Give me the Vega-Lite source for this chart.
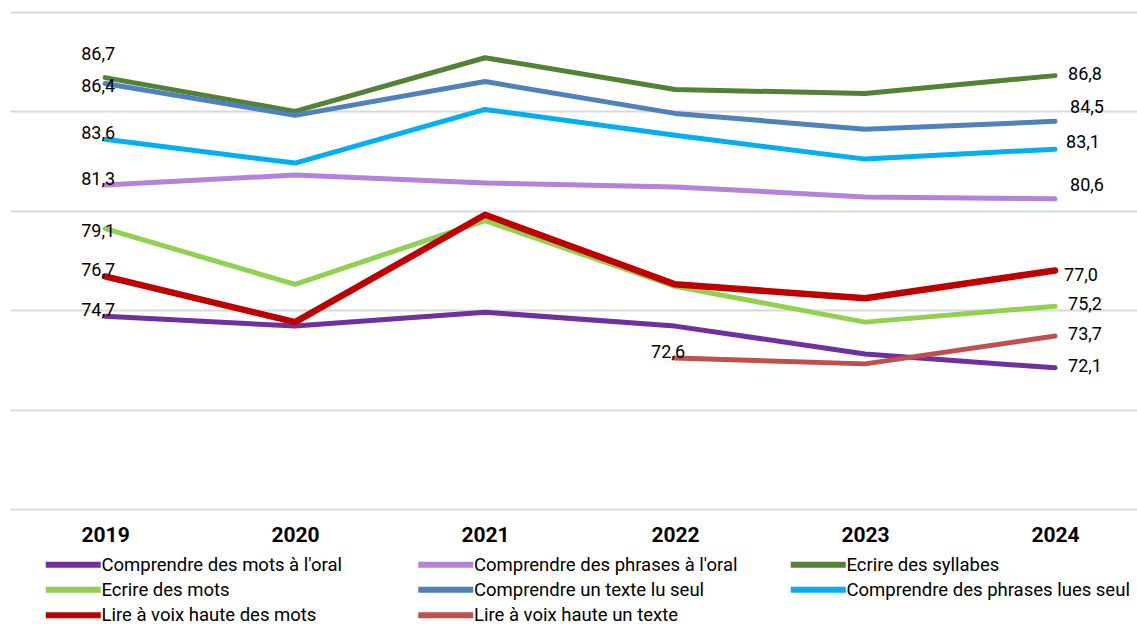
{
  "$schema": "https://vega.github.io/schema/vega-lite/v6.json",
  "autosize": "none",
  "width": 1127,
  "height": 497,
  "padding": {"left": 10, "top": 12, "right": 0, "bottom": 117},
  "background": "white",
  "config": {
    "locale": {"number": {"decimal": ",", "thousands": " ", "grouping": [3], "currency": ["", " €"]}},
    "view": {"stroke": null},
    "font": "Roboto",
    "text": {"font": "Roboto", "fontSize": 18, "color": "#000000"}
  },
  "data": {
    "values": [
      {"serie": "Comprendre des mots à l'oral", "annee": "2019", "valeur": 74.7},
      {"serie": "Comprendre des mots à l'oral", "annee": "2020", "valeur": 74.2},
      {"serie": "Comprendre des mots à l'oral", "annee": "2021", "valeur": 74.9},
      {"serie": "Comprendre des mots à l'oral", "annee": "2022", "valeur": 74.2},
      {"serie": "Comprendre des mots à l'oral", "annee": "2023", "valeur": 72.8},
      {"serie": "Comprendre des mots à l'oral", "annee": "2024", "valeur": 72.1},
      {"serie": "Comprendre des phrases à l'oral", "annee": "2019", "valeur": 81.3},
      {"serie": "Comprendre des phrases à l'oral", "annee": "2020", "valeur": 81.8},
      {"serie": "Comprendre des phrases à l'oral", "annee": "2021", "valeur": 81.4},
      {"serie": "Comprendre des phrases à l'oral", "annee": "2022", "valeur": 81.2},
      {"serie": "Comprendre des phrases à l'oral", "annee": "2023", "valeur": 80.7},
      {"serie": "Comprendre des phrases à l'oral", "annee": "2024", "valeur": 80.6},
      {"serie": "Ecrire des syllabes", "annee": "2019", "valeur": 86.7},
      {"serie": "Ecrire des syllabes", "annee": "2020", "valeur": 85.0},
      {"serie": "Ecrire des syllabes", "annee": "2021", "valeur": 87.7},
      {"serie": "Ecrire des syllabes", "annee": "2022", "valeur": 86.1},
      {"serie": "Ecrire des syllabes", "annee": "2023", "valeur": 85.9},
      {"serie": "Ecrire des syllabes", "annee": "2024", "valeur": 86.8},
      {"serie": "Ecrire des mots", "annee": "2019", "valeur": 79.1},
      {"serie": "Ecrire des mots", "annee": "2020", "valeur": 76.3},
      {"serie": "Ecrire des mots", "annee": "2021", "valeur": 79.5},
      {"serie": "Ecrire des mots", "annee": "2022", "valeur": 76.2},
      {"serie": "Ecrire des mots", "annee": "2023", "valeur": 74.4},
      {"serie": "Ecrire des mots", "annee": "2024", "valeur": 75.2},
      {"serie": "Comprendre un texte lu seul", "annee": "2019", "valeur": 86.4},
      {"serie": "Comprendre un texte lu seul", "annee": "2020", "valeur": 84.8},
      {"serie": "Comprendre un texte lu seul", "annee": "2021", "valeur": 86.5},
      {"serie": "Comprendre un texte lu seul", "annee": "2022", "valeur": 84.9},
      {"serie": "Comprendre un texte lu seul", "annee": "2023", "valeur": 84.1},
      {"serie": "Comprendre un texte lu seul", "annee": "2024", "valeur": 84.5},
      {"serie": "Comprendre des phrases lues seul", "annee": "2019", "valeur": 83.6},
      {"serie": "Comprendre des phrases lues seul", "annee": "2020", "valeur": 82.4},
      {"serie": "Comprendre des phrases lues seul", "annee": "2021", "valeur": 85.1},
      {"serie": "Comprendre des phrases lues seul", "annee": "2022", "valeur": 83.8},
      {"serie": "Comprendre des phrases lues seul", "annee": "2023", "valeur": 82.6},
      {"serie": "Comprendre des phrases lues seul", "annee": "2024", "valeur": 83.1},
      {"serie": "Lire à voix haute des mots", "annee": "2019", "valeur": 76.7},
      {"serie": "Lire à voix haute des mots", "annee": "2020", "valeur": 74.4},
      {"serie": "Lire à voix haute des mots", "annee": "2021", "valeur": 79.8},
      {"serie": "Lire à voix haute des mots", "annee": "2022", "valeur": 76.3},
      {"serie": "Lire à voix haute des mots", "annee": "2023", "valeur": 75.6},
      {"serie": "Lire à voix haute des mots", "annee": "2024", "valeur": 77.0},
      {"serie": "Lire à voix haute un texte", "annee": "2022", "valeur": 72.6},
      {"serie": "Lire à voix haute un texte", "annee": "2023", "valeur": 72.3},
      {"serie": "Lire à voix haute un texte", "annee": "2024", "valeur": 73.7}
    ]
  },
  "encoding": {
    "x": {
      "field": "annee", "type": "ordinal",
      "scale": {"type": "point", "padding": 0.466, "align": 0.537},
      "axis": {"title": null, "domain": false, "ticks": false, "grid": false, "labelAngle": 0,
               "labelFont": "Roboto", "labelFontSize": 21, "labelFontWeight": "bold", "labelColor": "#000000", "labelPadding": 15}
    },
    "y": {
      "field": "valeur", "type": "quantitative",
      "scale": {"domain": [65, 90], "nice": false, "zero": false},
      "axis": {"title": null, "domain": false, "ticks": false, "labels": false, "values": [65, 70, 75, 80, 85, 90],
               "gridColor": "#d9d9d9", "gridWidth": 2}
    },
    "color": {
      "field": "serie", "type": "nominal",
      "scale": {
        "domain": ["Comprendre des mots à l'oral", "Comprendre des phrases à l'oral", "Ecrire des syllabes", "Ecrire des mots", "Comprendre un texte lu seul", "Comprendre des phrases lues seul", "Lire à voix haute des mots", "Lire à voix haute un texte"],
        "range": ["#7030A0", "#B383DB", "#548235", "#92D050", "#4F81BD", "#00B0F0", "#C00000", "#C0504D"]
      },
      "legend": {
        "title": null, "orient": "none", "legendX": 54, "legendY": 543, "direction": "horizontal", "columns": 3,
        "gridAlign": "all", "columnPadding": 20.5, "rowPadding": 0.5, "padding": 0,
        "symbolType": "M-5,0H5", "symbolSize": 121, "symbolStrokeWidth": 6,
        "labelFont": "Roboto", "labelFontSize": 18.5, "labelColor": "#000000", "labelOffset": 19, "labelLimit": 400
      }
    }
  },
  "layer": [
    {
      "transform": [{"filter": "datum.serie != 'Lire à voix haute des mots'"}],
      "mark": {"type": "line", "strokeWidth": 5, "strokeCap": "round", "strokeJoin": "round"}
    },
    {
      "transform": [{"filter": "datum.serie == 'Lire à voix haute des mots'"}],
      "mark": {"type": "line", "strokeWidth": 6.5, "strokeCap": "round", "strokeJoin": "round"}
    },
    {
      "transform": [{"filter": "(datum.annee == '2019' && indexof(['Ecrire des syllabes','Comprendre un texte lu seul','Ecrire des mots'], datum.serie) < 0) || (datum.annee == '2022' && datum.serie == 'Lire à voix haute un texte')"}],
      "mark": {"type": "text", "align": "center", "baseline": "middle", "dx": -7, "dy": -5},
      "encoding": {"text": {"field": "valeur", "type": "quantitative", "format": ".1f"}, "color": {"value": "#000000"}}
    },
    {
      "transform": [{"filter": "datum.annee == '2019' && datum.serie == 'Ecrire des syllabes'"}],
      "mark": {"type": "text", "align": "center", "baseline": "middle", "dx": -7, "dy": -23},
      "encoding": {"text": {"field": "valeur", "type": "quantitative", "format": ".1f"}, "color": {"value": "#000000"}}
    },
    {
      "transform": [{"filter": "datum.annee == '2019' && (datum.serie == 'Comprendre un texte lu seul' || datum.serie == 'Ecrire des mots')"}],
      "mark": {"type": "text", "align": "center", "baseline": "middle", "dx": -7, "dy": 3},
      "encoding": {"text": {"field": "valeur", "type": "quantitative", "format": ".1f"}, "color": {"value": "#000000"}}
    },
    {
      "transform": [{"filter": "datum.annee == '2024' && indexof(['Comprendre un texte lu seul','Comprendre des phrases à l\\'oral','Comprendre des phrases lues seul','Lire à voix haute des mots'], datum.serie) < 0"}],
      "mark": {"type": "text", "align": "left", "baseline": "middle", "dx": 13, "dy": -1},
      "encoding": {"text": {"field": "valeur", "type": "quantitative", "format": ".1f"}, "color": {"value": "#000000"}}
    },
    {
      "transform": [{"filter": "datum.annee == '2024' && (datum.serie == 'Comprendre un texte lu seul' || datum.serie == 'Comprendre des phrases à l\\'oral')"}],
      "mark": {"type": "text", "align": "left", "baseline": "middle", "dx": 15, "dy": -13},
      "encoding": {"text": {"field": "valeur", "type": "quantitative", "format": ".1f"}, "color": {"value": "#000000"}}
    },
    {
      "transform": [{"filter": "datum.annee == '2024' && datum.serie == 'Comprendre des phrases lues seul'"}],
      "mark": {"type": "text", "align": "left", "baseline": "middle", "dx": 11, "dy": -6},
      "encoding": {"text": {"field": "valeur", "type": "quantitative", "format": ".1f"}, "color": {"value": "#000000"}}
    },
    {
      "transform": [{"filter": "datum.annee == '2024' && datum.serie == 'Lire à voix haute des mots'"}],
      "mark": {"type": "text", "align": "left", "baseline": "middle", "dx": 9, "dy": 6},
      "encoding": {"text": {"field": "valeur", "type": "quantitative", "format": ".1f"}, "color": {"value": "#000000"}}
    }
  ]
}
